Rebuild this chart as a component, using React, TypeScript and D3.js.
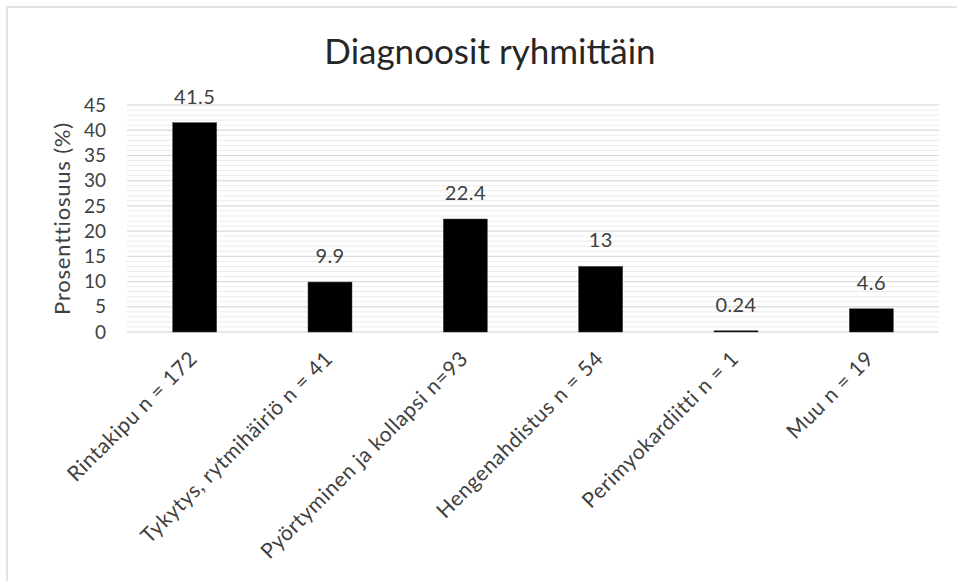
import React from "react";
import * as d3 from "d3";

const categories = [
  "Rintakipu n = 172",
  "Tykytys, rytmihäiriö n = 41",
  "Pyörtyminen ja kollapsi n=93",
  "Hengenahdistus n = 54",
  "Perimyokardiitti n = 1",
  "Muu n = 19",
];
const values = [41.5, 9.9, 22.4, 13, 0.24, 4.6];
const valueLabels = ["41.5", "9.9", "22.4", "13", "0.24", "4.6"];
const yTicks = [0, 5, 10, 15, 20, 25, 30, 35, 40, 45];
const minorTicks = d3.range(0, 46, 1);

const W = 957;
const H = 581;
const plot = { left: 127, right: 939, top: 105, bottom: 332 };
const FONT = "Lato, 'Open Sans', sans-serif";

export default function App() {
  const x = d3
    .scaleBand<string>()
    .domain(categories)
    .range([plot.left, plot.right])
    .paddingInner(0.675)
    .paddingOuter(0.3375);
  const y = d3.scaleLinear().domain([0, 45]).range([plot.bottom, plot.top]);

  return (
    <svg
      width={W}
      height={H}
      style={{ position: "absolute", left: 0, top: 0, background: "#fff" }}
      fontFamily={FONT}
    >
      <rect x={7} y={7} width={W + 10} height={H + 10} fill="#fff" stroke="#e3e3e3" strokeWidth={2} />
      <text x={490} y={64} textAnchor="middle" fontSize={35} fill="#262626">
        Diagnoosit ryhmittäin
      </text>
      {minorTicks.map((t) => (
        <line key={"m" + t} x1={plot.left} x2={plot.right} y1={y(t)} y2={y(t)} stroke="#ececec" strokeWidth={1} />
      ))}
      {yTicks.map((t) => (
        <line key={"g" + t} x1={plot.left} x2={plot.right} y1={y(t)} y2={y(t)} stroke="#d9d9d9" strokeWidth={1} />
      ))}
      {yTicks.map((t) => (
        <text key={"t" + t} x={106} y={y(t)} dy="0.35em" textAnchor="end" fontSize={19} fill="#404040">
          {t}
        </text>
      ))}
      <text
        transform={`translate(70, ${(plot.top + plot.bottom) / 2}) rotate(-90)`}
        textAnchor="middle"
        fontSize={22}
        letterSpacing={0.8}
        fill="#404040"
      >
        Prosenttiosuus (%)
      </text>
      {categories.map((c, i) => (
        <rect
          key={"b" + c}
          x={x(c)}
          y={y(values[i])}
          width={x.bandwidth()}
          height={y(0) - y(values[i])}
          fill="#000"
          stroke="#404040"
          strokeWidth={0.5}
        />
      ))}
      {categories.map((c, i) => (
        <text
          key={"v" + c}
          x={(x(c) as number) + x.bandwidth() / 2}
          y={y(values[i]) - 19}
          textAnchor="middle"
          fontSize={20}
          letterSpacing={0.4}
          fill="#404040"
        >
          {valueLabels[i]}
        </text>
      ))}
      {categories.map((c) => (
        <text
          key={"l" + c}
          transform={`translate(${(x(c) as number) + x.bandwidth() / 2 + 4}, ${plot.bottom + 28}) rotate(-45)`}
          textAnchor="end"
          fontSize={21}
          letterSpacing={0.6}
          fill="#404040"
        >
          {c}
        </text>
      ))}
    </svg>
  );
}
